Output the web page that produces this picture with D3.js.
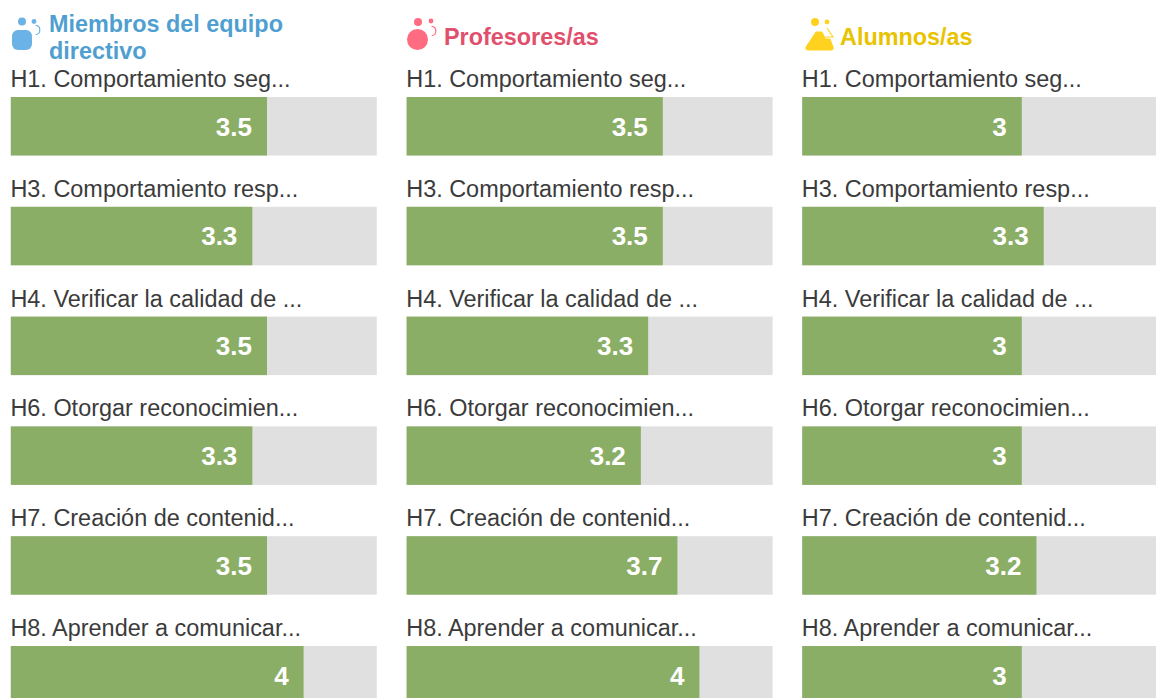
<!DOCTYPE html>
<html><head><meta charset="utf-8">
<script src="https://cdn.jsdelivr.net/npm/d3@7/dist/d3.min.js"></script>
<style>html,body{margin:0;padding:0;background:#fff;overflow:hidden}svg{display:block}text{font-family:"Liberation Sans",Arial,sans-serif}</style>
</head><body><svg id="c" width="1156" height="698"></svg>
<script>
const categories = ["H1. Comportamiento seg...","H3. Comportamiento resp...","H4. Verificar la calidad de ...","H6. Otorgar reconocimien...","H7. Creación de contenid...","H8. Aprender a comunicar..."];
const groupNames = ["Miembros del equipo|directivo","Profesores/as","Alumnos/as"];
const groupColors = ["#4f9fd0","#e0506c","#e8c300"];
const iconColors = ["#6bb3e6","#ff6b81","#ffd21f"];
const directivos = [3.5,3.3,3.5,3.3,3.5,4];
const profesores = [3.5,3.5,3.3,3.2,3.7,4];
const alumnos = [3,3.3,3,3,3.2,3];
const seriesValues = [directivos,profesores,alumnos];
const maxValue = 5;

const svg = d3.select("#c");
const colX = d3.scaleOrdinal().domain([0,1,2]).range([10.8,406.6,802.2]);
const w = d3.scaleLinear().domain([0,maxValue]).range([0,366]);
const y = d3.scaleBand().domain(d3.range(categories.length)).range([97,97+6*109.8]).paddingInner(0);
const barH = 58.5;

seriesValues.forEach((vals,c)=>{
  const g = svg.append("g").attr("transform",`translate(${colX(c)},0)`);
  const rows = g.selectAll("g.r").data(vals).join("g").attr("class","r")
    .attr("transform",(d,i)=>`translate(0,${y(i)})`);
  rows.append("text").attr("x",-0.4).attr("y",-10).attr("font-size",23.45).attr("fill","#3b3b3b")
    .text((d,i)=>categories[i]);
  rows.append("rect").attr("width",w(maxValue)).attr("height",barH).attr("fill","#e0e0e0");
  rows.append("rect").attr("width",d=>w(d)).attr("height",barH).attr("fill","#8bae66");
  rows.append("text").attr("x",d=>w(d)-15).attr("y",barH/2+9.4).attr("text-anchor","end")
    .attr("font-size",26).attr("font-weight","700").attr("fill","#fff").text(d=>d);
});

// headers
const titleX = [49,444,840];
groupNames.forEach((n,i)=>{
  const lines = n.split("|");
  const t = svg.append("text").attr("font-size",23.4).attr("font-weight","700").attr("fill",groupColors[i]);
  lines.forEach((l,k)=>t.append("tspan").attr("x",titleX[i]).attr("y",(lines.length>1?32:45)+k*27).text(l));
});

// icons
function arc(g,cx,cy,col){
  g.append("path").attr("d",d3.arc().innerRadius(4.2).outerRadius(5.4).startAngle(0.1).endAngle(Math.PI*0.95)())
   .attr("transform",`translate(${cx},${cy})`).attr("fill",col);
}
const ic0 = svg.append("g");
ic0.append("rect").attr("x",12).attr("y",30).attr("width",20).attr("height",20).attr("rx",6).attr("fill",iconColors[0]);
ic0.append("circle").attr("cx",22).attr("cy",21.5).attr("r",4).attr("fill",iconColors[0]);
ic0.append("circle").attr("cx",34).attr("cy",21.5).attr("r",2.4).attr("fill",iconColors[0]);
arc(ic0,35,30,iconColors[0]);

const ic1 = svg.append("g");
ic1.append("circle").attr("cx",417.5).attr("cy",39.5).attr("r",10.5).attr("fill",iconColors[1]);
ic1.append("circle").attr("cx",418).attr("cy",22).attr("r",4).attr("fill",iconColors[1]);
ic1.append("circle").attr("cx",431).attr("cy",21).attr("r",2.4).attr("fill",iconColors[1]);
arc(ic1,431,31,iconColors[1]);

const ic2 = svg.append("g");
ic2.append("path").attr("d","M816 32 L822 32 L824 36 L825 39 L830 39 L833 47 Q834 50 831 50 L808 50 Q805 50 806 47 Z").attr("fill",iconColors[2]).attr("stroke",iconColors[2]).attr("stroke-linejoin","round").attr("stroke-width",1);
ic2.append("circle").attr("cx",815).attr("cy",22).attr("r",4).attr("fill",iconColors[2]);
ic2.append("circle").attr("cx",827).attr("cy",22).attr("r",2.4).attr("fill",iconColors[2]);
ic2.append("path").attr("d","M827 28 L833 37 L825 37").attr("fill","none").attr("stroke",iconColors[2]).attr("stroke-width",1.1);
</script></body></html>
